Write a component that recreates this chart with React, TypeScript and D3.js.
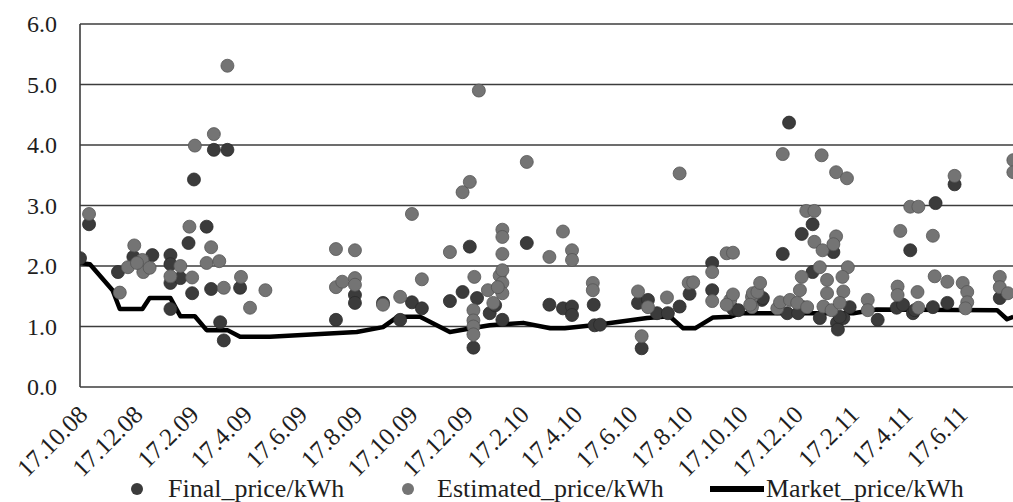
import React from "react";
import * as d3 from "d3";

// x values: days after 17.10.2008 ; y values: price per kWh
const finalPoints: [number, number][] = [
  [0, 2.13], [10, 2.69], [42, 1.9], [59, 2.15], [80, 2.18], [100, 2.18], [100, 2.03], [100, 1.72],
  [100, 1.29], [111, 1.8], [124, 1.55], [126, 3.43], [120, 2.38], [140, 2.65], [148, 3.92], [163, 3.92],
  [145, 1.62], [155, 1.07], [159, 0.77], [177, 1.64], [283, 1.11], [304, 1.52], [304, 1.39], [335, 1.39],
  [354, 1.11], [367, 1.4], [378, 1.3], [409, 1.42], [423, 1.57], [431, 2.32], [439, 1.47], [435, 0.65],
  [453, 1.22], [467, 1.11], [459, 1.35], [494, 2.38], [519, 1.36], [534, 1.3], [544, 1.33], [544, 1.19],
  [568, 1.36], [569, 1.02], [575, 1.03], [617, 1.39], [628, 1.44], [621, 0.64], [638, 1.22], [650, 1.22],
  [663, 1.33], [674, 1.54], [699, 2.05], [699, 1.6], [722, 1.29], [754, 1.44], [755, 1.47], [728, 1.27],
  [777, 2.2], [782, 1.22], [784, 4.37], [798, 2.53], [799, 1.32], [794, 1.22], [810, 2.69], [810, 1.9],
  [818, 1.14], [833, 2.23], [837, 1.06], [838, 0.95], [844, 1.14], [840, 1.16], [851, 1.32], [882, 1.11],
  [903, 1.31], [910, 1.36], [918, 2.26], [921, 1.22], [923, 1.27], [943, 1.32], [946, 3.04], [959, 1.39],
  [967, 3.35], [1017, 1.47],
];

const estimatedPoints: [number, number][] = [
  [10, 2.86], [44, 1.56], [53, 1.98], [60, 2.34], [69, 2.1], [70, 1.9], [77, 1.97], [63, 2.05],
  [100, 1.83], [111, 2.0], [124, 1.81], [121, 2.65], [127, 3.99], [148, 4.18], [163, 5.31], [145, 2.31],
  [140, 2.05], [154, 2.08], [159, 1.64], [178, 1.82], [188, 1.31], [205, 1.6], [283, 2.28], [304, 2.26],
  [283, 1.65], [290, 1.74], [304, 1.8], [304, 1.69], [335, 1.36], [354, 1.49], [367, 2.86], [378, 1.78],
  [409, 2.23], [423, 3.22], [431, 3.39], [441, 4.9], [436, 1.82], [435, 1.27], [435, 1.1], [435, 1.0],
  [435, 0.87], [451, 1.6], [464, 1.84], [467, 1.93], [467, 1.72], [467, 1.55], [462, 1.65], [457, 1.39],
  [467, 2.6], [467, 2.48], [467, 2.2], [494, 3.72], [519, 2.15], [534, 2.57], [544, 2.26], [544, 2.1],
  [567, 1.72], [567, 1.6], [617, 1.58], [628, 1.32], [621, 0.84], [649, 1.48], [663, 3.53], [673, 1.72],
  [678, 1.73], [699, 1.9], [699, 1.42], [715, 2.21], [722, 2.22], [719, 1.44], [722, 1.53], [715, 1.36],
  [743, 1.49], [743, 1.32], [744, 1.55], [741, 1.36], [749, 1.57], [752, 1.72], [771, 1.3], [774, 1.4],
  [785, 1.44], [777, 3.85], [793, 1.39], [796, 1.6], [798, 1.82], [804, 1.32], [803, 2.91], [812, 2.91],
  [812, 2.4], [821, 2.26], [820, 3.83], [818, 1.98], [826, 1.77], [826, 1.55], [822, 1.33], [831, 1.27],
  [836, 2.49], [833, 2.36], [836, 3.55], [848, 3.45], [849, 1.98], [843, 1.82], [844, 1.58], [840, 1.39],
  [871, 1.44], [871, 1.27], [904, 1.66], [904, 1.52], [907, 2.58], [918, 2.98], [927, 2.98], [926, 1.57],
  [927, 1.31], [943, 2.5], [945, 1.83], [959, 1.74], [967, 3.49], [976, 1.72], [981, 1.57], [981, 1.4],
  [979, 1.3], [1017, 1.82], [1017, 1.65], [1026, 1.55], [1032, 3.75], [1032, 3.55],
];

const marketPoints: [number, number][] = [
  [0, 2.05], [11, 2.03], [36, 1.6], [44, 1.29], [69, 1.29], [77, 1.47], [100, 1.47], [111, 1.17],
  [127, 1.17], [140, 0.94], [163, 0.94], [177, 0.83], [210, 0.83], [306, 0.91], [335, 0.99], [351, 1.16],
  [376, 1.16], [409, 0.91], [428, 0.96], [453, 1.02], [490, 1.06], [520, 0.97], [536, 0.97], [572, 1.03],
  [627, 1.14], [652, 1.17], [667, 0.97], [680, 0.97], [700, 1.15], [719, 1.16], [730, 1.22], [855, 1.22],
  [881, 1.28], [1014, 1.27], [1025, 1.12], [1032, 1.16],
];

const xTickLabels = [
  "17.10.08", "17.12.08", "17.2.09", "17.4.09", "17.6.09", "17.8.09", "17.10.09", "17.12.09", "17.2.10",
  "17.4.10", "17.6.10", "17.8.10", "17.10.10", "17.12.10", "17.2.11", "17.4.11", "17.6.11",
];
const yTicks = [0, 1, 2, 3, 4, 5, 6];
const seriesNames = ["Final_price/kWh", "Estimated_price/kWh", "Market_price/kWh"];

const START = new Date(2008, 9, 17);
const dateOf = (d: number) => d3.timeDay.offset(START, d);
const parseLabel = (s: string) => {
  const [dd, mm, yy] = s.split(".").map(Number);
  return new Date(2000 + yy, mm - 1, dd);
};

const W = 1013;
const H = 502;
const FINAL_COLOR = "#3b3b3b";
const EST_COLOR = "#747474";

export default function App() {
  const x = d3.scaleTime().domain([START, new Date(2011, 5, 17)]).range([80, 960]);
  const y = d3.scaleLinear().domain([0, 6]).range([387, 24]);
  const line = d3
    .line<[number, number]>()
    .x((p) => x(dateOf(p[0])))
    .y((p) => y(p[1]));
  const serif = "'Liberation Serif', serif";

  return (
    <svg
      width={W}
      height={H}
      style={{ position: "absolute", left: 0, top: 0, background: "#fff" }}
      fontFamily={serif}
    >
      <defs>
        <clipPath id="plot">
          <rect x={80} y={0} width={W - 80} height={400} />
        </clipPath>
      </defs>
      {yTicks.map((t) => (
        <g key={t}>
          <line x1={80} x2={W} y1={y(t)} y2={y(t)} stroke="#3c3c3c" strokeWidth={1.4} />
          <text x={57} y={y(t)} dy="0.35em" textAnchor="end" fontSize={24} fill="#1e1e1e">
            {t.toFixed(1)}
          </text>
        </g>
      ))}
      <line x1={80} x2={80} y1={y(6)} y2={y(0)} stroke="#3c3c3c" strokeWidth={1.6} />
      <g clipPath="url(#plot)">
        <path d={line(marketPoints) || ""} fill="none" stroke="#000" strokeWidth={4.5} strokeLinejoin="round" />
        {finalPoints.map((p, i) => (
          <circle key={"f" + i} cx={x(dateOf(p[0]))} cy={y(p[1])} r={6.5} fill={FINAL_COLOR} stroke="#2a2a2a" strokeWidth={0.8} />
        ))}
        {estimatedPoints.map((p, i) => (
          <circle key={"e" + i} cx={x(dateOf(p[0]))} cy={y(p[1])} r={6.5} fill={EST_COLOR} stroke="#555" strokeWidth={0.8} />
        ))}
      </g>
      {xTickLabels.map((l) => {
        const tx = x(parseLabel(l));
        return (
          <text
            key={l}
            transform={`translate(${tx + 3},${410}) rotate(-45)`}
            textAnchor="end"
            dy="0.35em"
            fontSize={25}
            fill="#1e1e1e"
          >
            {l}
          </text>
        );
      })}
      <g>
        <circle cx={137} cy={489} r={6} fill={FINAL_COLOR} />
        <text x={168} y={497} fontSize={26} fill="#1e1e1e">{seriesNames[0]}</text>
        <circle cx={408} cy={489} r={6} fill={EST_COLOR} />
        <text x={437} y={497} fontSize={26} fill="#1e1e1e">{seriesNames[1]}</text>
        <line x1={710} x2={764} y1={489} y2={489} stroke="#000" strokeWidth={6} />
        <text x={766} y={497} fontSize={26} fill="#1e1e1e">{seriesNames[2]}</text>
      </g>
    </svg>
  );
}
